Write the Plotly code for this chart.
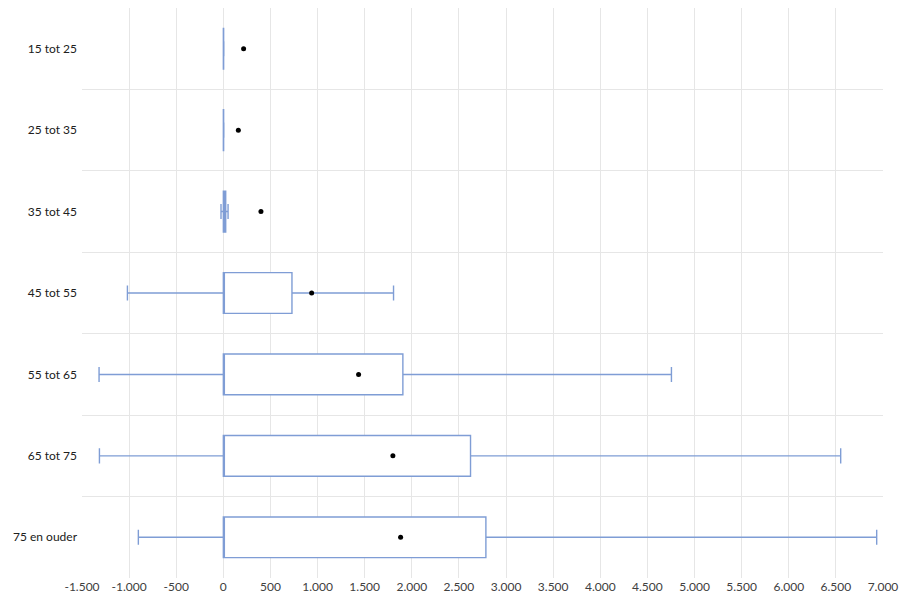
import plotly.graph_objects as go

categories = ["15 tot 25", "25 tot 35", "35 tot 45", "45 tot 55", "55 tot 65", "65 tot 75", "75 en ouder"]
lower_fence = [0, 0, -25, -1018, -1319, -1315, -902]
q1 = [0, 0, 0, 0, 0, 0, 0]
median = [0, 0, 0, 0, 0, 0, 0]
q3 = [3, 3, 25, 728, 1905, 2623, 2786]
upper_fence = [5, 5, 50, 1806, 4755, 6551, 6933]
means = [215, 159, 399, 937, 1435, 1799, 1881]

x_tick_values = [-1500, -1000, -500, 0, 500, 1000, 1500, 2000, 2500, 3000, 3500,
                 4000, 4500, 5000, 5500, 6000, 6500, 7000]
x_tick_labels = ["-1.500", "-1.000", "-500", "0", "500", "1.000", "1.500", "2.000",
                 "2.500", "3.000", "3.500", "4.000", "4.500", "5.000", "5.500",
                 "6.000", "6.500", "7.000"]

box_color = "#7F9DD5"
fig = go.Figure()
fig.add_trace(go.Box(
    y=categories, q1=q1, median=median, q3=q3,
    lowerfence=lower_fence, upperfence=upper_fence,
    orientation="h", fillcolor="white",
    line=dict(color=box_color, width=1.4),
    whiskerwidth=0.37, boxpoints=False, showlegend=False, hoverinfo="skip",
))
fig.add_trace(go.Scatter(
    x=means, y=categories, mode="markers",
    marker=dict(color="black", size=5), showlegend=False,
))

fig.update_layout(
    width=900, height=595,
    margin=dict(l=82, r=17, t=8, b=17),
    plot_bgcolor="white", paper_bgcolor="white",
    boxgap=0.5, boxgroupgap=0,
    font=dict(family="Lato", size=12, color="#404040"),
    xaxis=dict(range=[-1500, 7000], tickvals=x_tick_values, ticktext=x_tick_labels,
               showgrid=True, gridcolor="#E6E6E6", gridwidth=1,
               zeroline=False, showline=False, ticks="", automargin=False,
               tickfont=dict(size=12, color="#404040")),
    yaxis=dict(type="category", categoryorder="array", categoryarray=categories,
               autorange="reversed", tickson="boundaries",
               showgrid=True, gridcolor="#E6E6E6", gridwidth=1,
               zeroline=False, showline=False, ticks="", ticklen=0,
               ticklabelstandoff=4,
               automargin=False, tickfont=dict(size=12, color="#202020")),
)

fig.write_html("out.html", config={"displayModeBar": False},
               post_script="document.body.style.margin='0';document.body.style.overflow='hidden';")
